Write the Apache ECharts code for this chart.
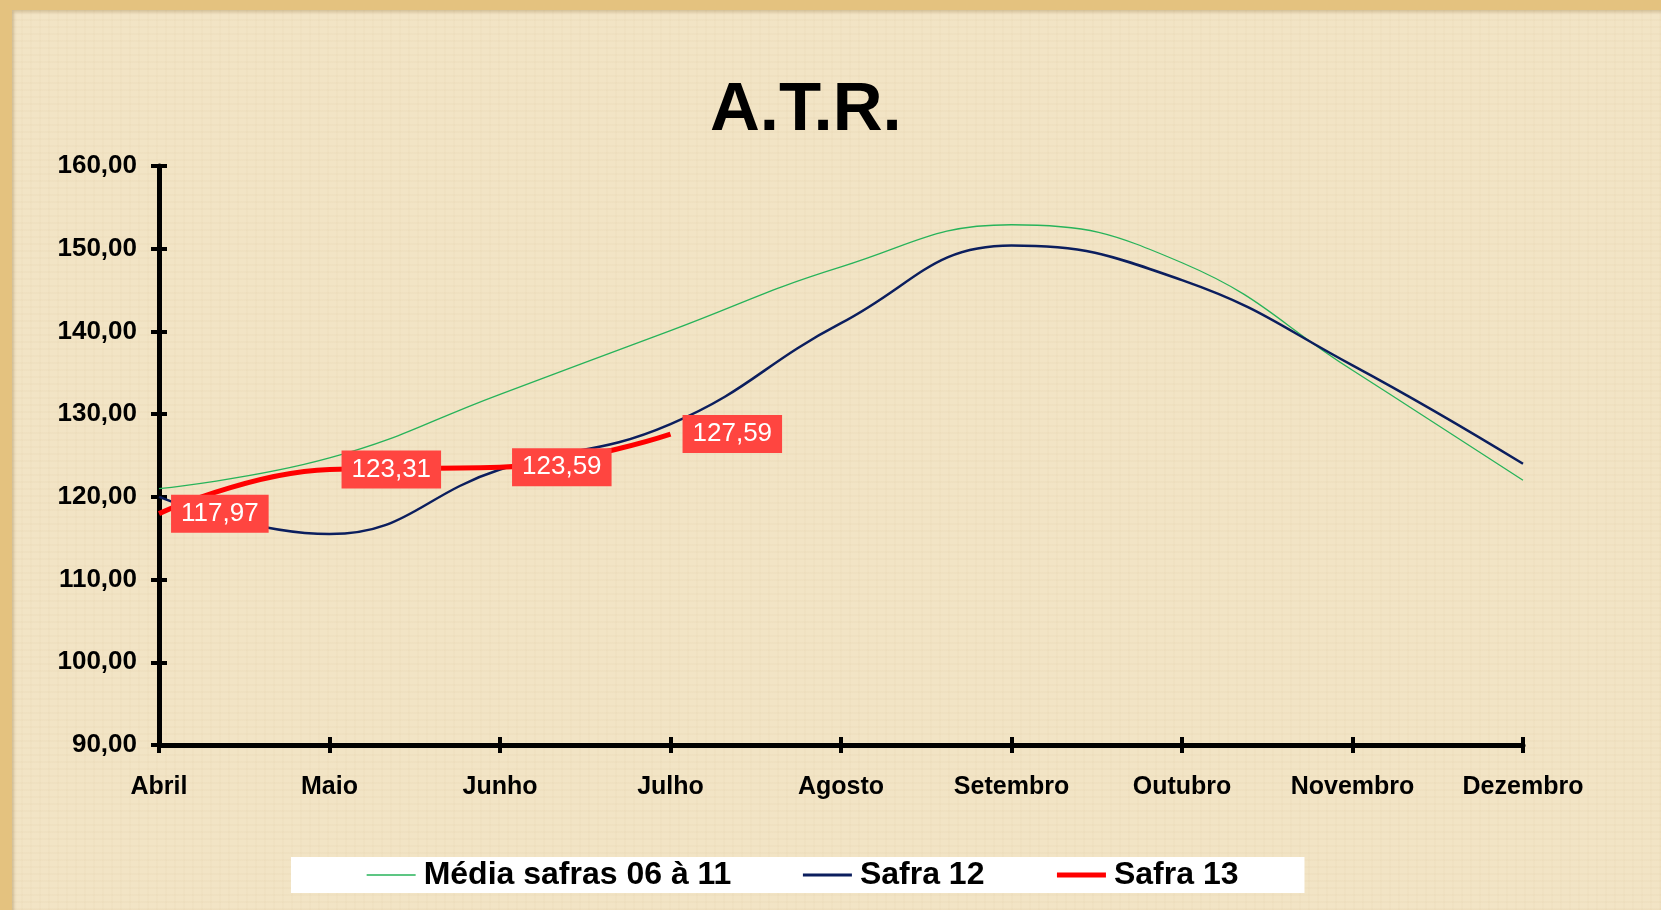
<!DOCTYPE html>
<html>
<head>
<meta charset="utf-8">
<title>A.T.R.</title>
<script src="https://cdn.jsdelivr.net/npm/echarts@6/dist/echarts.min.js"></script>
<style>
  html, body { margin: 0; padding: 0; }
  body { width: 1661px; height: 910px; background: #E4C27F; position: relative; overflow: hidden; }
  #main {
    position: absolute; left: 12px; top: 10px; width: 1649px; height: 900px;
    background-color: #F2E4C5;
    background-image:
      repeating-linear-gradient(0deg, rgba(190,160,110,0.05) 0px, rgba(190,160,110,0.05) 2px, transparent 2px, transparent 7px),
      repeating-linear-gradient(90deg, rgba(190,160,110,0.04) 0px, rgba(190,160,110,0.04) 2px, transparent 2px, transparent 9px);
    box-shadow: inset 2px 2px 3px rgba(150,120,70,0.35);
  }
</style>
</head>
<body>
<div id="main"></div>
<script>
// meses da safra
const meses = ['Abril', 'Maio', 'Junho', 'Julho', 'Agosto', 'Setembro', 'Outubro', 'Novembro', 'Dezembro']
// valores
const mediaSafras = [121.0, 124.7, 132.4, 140.1, 147.8, 152.9, 148.3, 135.3, 122.0]
const safra12 = [120.0, 115.5, 123.3, 128.8, 141.0, 150.4, 146.2, 135.9, 124.0]
const safra13 = [117.97, 123.31, 123.59, 127.59]
// eixo y
const yMin = 90
const yMax = 160
const yStep = 10

const fonte = 'Arial, "Liberation Sans", sans-serif'
const virgula = v => v.toFixed(2).replace('.', ',')

const myChart = echarts.init(document.getElementById('main'))
myChart.setOption({
  textStyle: { fontFamily: fonte },
  title: {
    text: 'A.T.R.',
    left: 698,
    top: 66,
    padding: 0,
    textStyle: { fontSize: 69, fontWeight: 'bold', color: '#000', fontFamily: fonte }
  },
  legend: {
    data: [
      { name: 'Média safras 06 à 11', lineStyle: { width: 1.3 } },
      { name: 'Safra 12', lineStyle: { width: 3 } },
      { name: 'Safra 13', lineStyle: { width: 5 } }
    ],
    left: 279,
    top: 847,
    backgroundColor: '#fff',
    padding: [2, 66, 2, 75],
    itemGap: 70,
    itemWidth: 49,
    itemHeight: 30,
    // esconde o círculo do ícone, fica só a linha
    itemStyle: { color: 'transparent', borderWidth: 0 },
    textStyle: { fontSize: 32, fontWeight: 'bold', color: '#000', fontFamily: fonte, padding: [0, 0, 0, 3] }
  },
  grid: {
    left: 147,
    right: 138,
    top: 156,
    bottom: 165,
    containLabel: false
  },
  xAxis: [{
    type: 'category',
    boundaryGap: false,
    data: meses,
    axisLine: { onZero: false, lineStyle: { color: '#000', width: 5 } },
    axisTick: { show: true, length: 8, lineStyle: { color: '#000', width: 4 } },
    axisLabel: { margin: 30, fontSize: 25, fontWeight: 'bold', color: '#000', fontFamily: fonte, interval: 0 },
    splitLine: { show: false }
  }, {
    // marcas para dentro (cruzando o eixo)
    type: 'category',
    position: 'bottom',
    boundaryGap: false,
    data: meses,
    axisLine: { show: false, onZero: false },
    axisTick: { show: true, inside: true, length: 8, lineStyle: { color: '#000', width: 4 } },
    axisLabel: { show: false },
    splitLine: { show: false }
  }],
  yAxis: [{
    type: 'value',
    min: yMin,
    max: yMax,
    interval: yStep,
    axisLine: { show: true, lineStyle: { color: '#000', width: 5 } },
    axisTick: { show: true, length: 8, lineStyle: { color: '#000', width: 4 } },
    axisLabel: { margin: 22, fontSize: 26, fontWeight: 'bold', color: '#000', fontFamily: fonte, formatter: v => virgula(v) },
    splitLine: { show: false }
  }, {
    type: 'value',
    position: 'left',
    min: yMin,
    max: yMax,
    interval: yStep,
    axisLine: { show: false },
    axisTick: { show: true, inside: true, length: 8, lineStyle: { color: '#000', width: 4 } },
    axisLabel: { show: false },
    splitLine: { show: false }
  }],
  series: [{
    name: 'Média safras 06 à 11',
    type: 'line',
    smooth: 0.45,
    symbol: 'none',
    data: mediaSafras,
    lineStyle: { color: '#27B35A', width: 1.3 },
    itemStyle: { color: '#27B35A' },
    z: 2
  }, {
    name: 'Safra 12',
    type: 'line',
    smooth: 0.45,
    symbol: 'none',
    data: safra12,
    lineStyle: { color: '#0B1E5E', width: 2.5 },
    itemStyle: { color: '#0B1E5E' },
    z: 3
  }, {
    name: 'Safra 13',
    type: 'line',
    smooth: 0.45,
    symbol: 'circle',
    symbolSize: 0.1,
    showSymbol: true,
    data: safra13,
    lineStyle: { color: '#FF0000', width: 5 },
    itemStyle: { color: '#FF0000' },
    z: 4,
    label: {
      show: true,
      position: 'right',
      distance: 12,
      backgroundColor: '#FF4540',
      color: '#fff',
      fontSize: 26,
      fontFamily: fonte,
      padding: [7, 10, 5, 10],
      formatter: p => virgula(p.value)
    }
  }]
})
</script>
</body>
</html>
